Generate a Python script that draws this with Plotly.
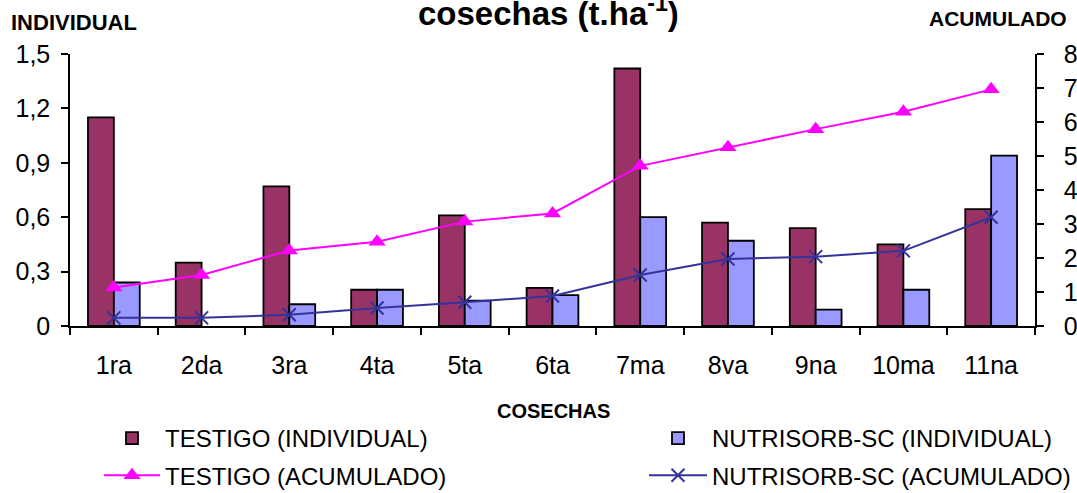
import plotly.graph_objects as go

# Harvests (cosechas)
cosechas = ["1ra", "2da", "3ra", "4ta", "5ta", "6ta", "7ma", "8va", "9na", "10ma", "11na"]

# Individual yield per harvest (t/ha); None = no harvest recorded
testigo_ind = [1.15, 0.35, 0.77, 0.20, 0.61, 0.21, 1.42, 0.57, 0.54, 0.45, 0.645]
nutrisorb_ind = [0.24, None, 0.12, 0.20, 0.14, 0.17, 0.60, 0.47, 0.09, 0.20, 0.94]

# Accumulated yield (t/ha)
testigo_acum = [1.13, 1.50, 2.22, 2.48, 3.07, 3.31, 4.71, 5.26, 5.79, 6.30, 6.96]
nutrisorb_acum = [0.24, 0.24, 0.33, 0.53, 0.70, 0.88, 1.50, 1.97, 2.04, 2.21, 3.20]

# Axis ticks
left_ticks = [0, 0.3, 0.6, 0.9, 1.2, 1.5]
left_labels = ["0", "0,3", "0,6", "0,9", "1,2", "1,5"]
right_ticks = [0, 1, 2, 3, 4, 5, 6, 7, 8]

FONT = "Liberation Sans, Arial, sans-serif"
W, H = 1077, 493
L, R, T, B = 70, 42, 54, 167
PW, PH = W - L - R, H - T - B


def px_x(p):
    """Horizontal pixel -> paper coordinate."""
    return (p - L) / PW


def px_y(p):
    """Vertical pixel (from top) -> paper coordinate."""
    return (H - B - p) / PH


fig = go.Figure()

fig.add_trace(go.Bar(
    x=cosechas, y=testigo_ind, name="TESTIGO (INDIVIDUAL)",
    marker=dict(color="#993366", line=dict(color="black", width=1.8)),
    legend="legend", legendgroup="a",
))
fig.add_trace(go.Bar(
    x=cosechas, y=nutrisorb_ind, name="NUTRISORB-SC (INDIVIDUAL)",
    marker=dict(color="#9999FF", line=dict(color="black", width=1.8)),
    legend="legend2", legendgroup="b",
))
fig.add_trace(go.Scatter(
    x=cosechas, y=testigo_acum, name="TESTIGO (ACUMULADO)", yaxis="y2",
    mode="lines+markers",
    line=dict(color="#FF00FF", width=2),
    marker=dict(symbol="triangle-up", size=15, color="#FF00FF"),
    legend="legend", legendgroup="c",
))
fig.add_trace(go.Scatter(
    x=cosechas, y=nutrisorb_acum, name="NUTRISORB-SC (ACUMULADO)", yaxis="y2",
    mode="lines+markers",
    line=dict(color="#333399", width=2),
    marker=dict(symbol="x-thin-open", size=13, color="#333399",
                line=dict(color="#333399", width=2)),
    legend="legend2", legendgroup="d",
))

legend_style = dict(
    orientation="v", xanchor="left", yanchor="top",
    font=dict(family=FONT, size=24, color="black"),
    bgcolor="rgba(0,0,0,0)", tracegroupgap=3,
    traceorder="grouped",
)

axis_common = dict(
    showline=True, linecolor="black", linewidth=1.5,
    ticks="outside", ticklen=7, tickwidth=1.5, tickcolor="black",
    showgrid=False, zeroline=False, automargin=False,
    tickfont=dict(size=25),
)

fig.update_layout(
    width=W, height=H,
    margin=dict(l=L, r=R, t=T, b=B, autoexpand=False),
    paper_bgcolor="white", plot_bgcolor="white",
    font=dict(family=FONT, size=20, color="black"),
    barmode="group", bargap=0.41, bargroupgap=0.0,
    showlegend=True,
    legend=dict(x=px_x(99), y=px_y(416), itemwidth=56, **legend_style),
    legend2=dict(x=px_x(644), y=px_y(416), itemwidth=58, **legend_style),
    xaxis=dict(range=[-0.5, 10.5], tickson="boundaries",
               ticklabelstandoff=16, **axis_common),
    yaxis=dict(range=[0, 1.5], tickvals=left_ticks, ticktext=left_labels,
               ticklabelstandoff=6, **axis_common),
    yaxis2=dict(range=[0, 8], tickvals=right_ticks, overlaying="y", side="right",
                ticklabelstandoff=15, **axis_common),
    annotations=[
        dict(text="<b>cosechas (t.ha<sup>-1</sup>)</b>", xref="paper", yref="paper",
             x=px_x(548), y=px_y(34), xanchor="center", yanchor="bottom",
             showarrow=False, font=dict(family=FONT, size=33, color="black")),
        dict(text="<b>INDIVIDUAL</b>", xref="paper", yref="paper",
             x=px_x(9), y=px_y(37), xanchor="left", yanchor="bottom",
             showarrow=False, font=dict(family=FONT, size=22, color="black")),
        dict(text="<b>ACUMULADO</b>", xref="paper", yref="paper",
             x=px_x(1069), y=px_y(32), xanchor="right", yanchor="bottom",
             showarrow=False, font=dict(family=FONT, size=21, color="black")),
        dict(text="<b>COSECHAS</b>", xref="paper", yref="paper",
             x=px_x(553), y=px_y(411), xanchor="center", yanchor="middle",
             showarrow=False, font=dict(family=FONT, size=20, color="black")),
    ],
)

fig.write_html("out.html")
